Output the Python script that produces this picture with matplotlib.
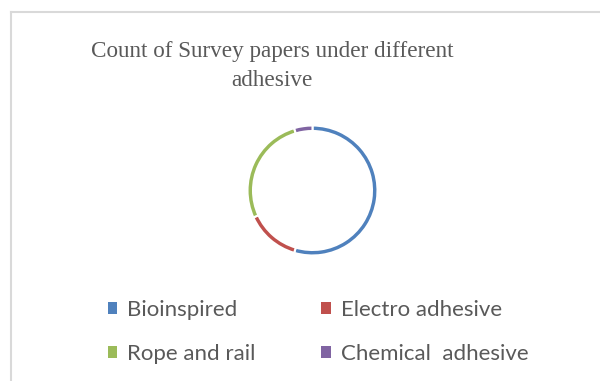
import matplotlib
matplotlib.use("Agg")
import matplotlib.pyplot as plt
from matplotlib.patches import Rectangle
from matplotlib.lines import Line2D

categories = ["Bioinspired", "Electro adhesive", "Rope and rail", "Chemical  adhesive"]
counts = [12, 3, 6, 1]
colors = ["#4F81BD", "#C0504D", "#9BBB59", "#8064A2"]
title = "Count of Survey papers under different\nadhesive"

W, H = 600, 381
fig = plt.figure(figsize=(W / 100, H / 100), dpi=100)
fig.patch.set_facecolor("white")

# frame
fig.add_artist(Line2D([11 / W, 11 / W], [0, 1 - 12 / H], transform=fig.transFigure,
                      color="#D9D9D9", lw=1.5))
fig.add_artist(Line2D([11 / W, 1], [1 - 12 / H, 1 - 12 / H], transform=fig.transFigure,
                      color="#D9D9D9", lw=1.5))

cx, cy, r = 312.5, 190.5, 65
ax = fig.add_axes([(cx - r) / W, 1 - (cy + r) / H, 2 * r / W, 2 * r / H])
wedges, _ = ax.pie(counts, colors=colors, startangle=90, counterclock=False, radius=1,
                   wedgeprops=dict(width=0.085, edgecolor="white", linewidth=1.5))
ax.set_xlim(-1, 1)
ax.set_ylim(-1, 1)
ax.set_aspect("equal")
ax.axis("off")

fig.text(272 / W, 1 - 66 / H, title, ha="center", va="center", family="Liberation Serif",
         fontsize=16.7, color="#595959", linespacing=1.5)

order = [0, 2, 1, 3]
handles = [Rectangle((0, 0), 1, 1, facecolor=colors[i], edgecolor="none") for i in order]
labels = [categories[i] for i in order]
leg = fig.legend(handles, labels, ncol=2, loc="upper left",
                 bbox_to_anchor=(88 / W, 1 - 280 / H), frameon=False,
                 prop=dict(family="Lato", size=16), labelcolor="#595959",
                 handlelength=0.42, handleheight=0.42, handletextpad=0.45,
                 columnspacing=2.95, labelspacing=1.07)

fig.savefig("out.png", dpi=100, facecolor="white")
